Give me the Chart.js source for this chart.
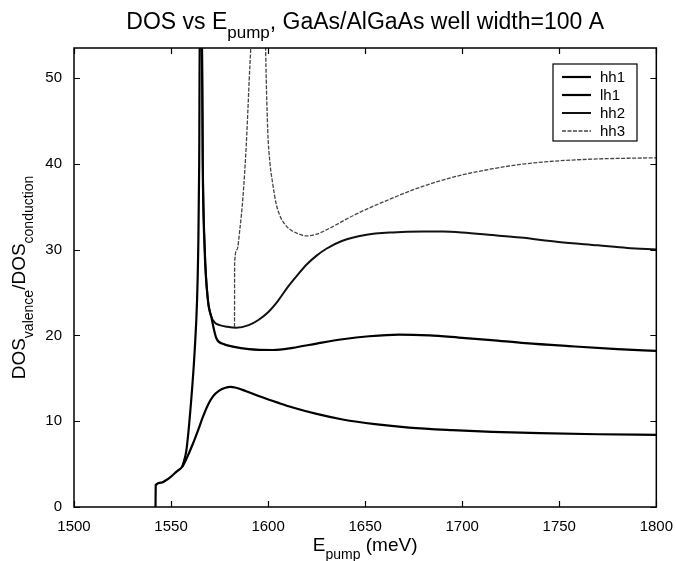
<!DOCTYPE html>
<html>
<head>
<meta charset="utf-8">
<script src="https://cdn.jsdelivr.net/npm/chart.js@4.4.0/dist/chart.umd.min.js"></script>
<style>
  html, body { margin: 0; padding: 0; background: #fff; }
</style>
</head>
<body>
<canvas id="dosChart" width="676" height="561"></canvas>
<script>
// E_pump (meV) / DOS ratio
const hh1E = [1542.0, 1542.1, 1545, 1547.6, 1550, 1552.7, 1555.8, 1558.5, 1561.3, 1564, 1566.4, 1569, 1571.6, 1575, 1578, 1580.5, 1583.5, 1588.7, 1595.5, 1605.8, 1612.7, 1625, 1638.4, 1655, 1672.6, 1695, 1715.4, 1740, 1770, 1800];
const hh1V = [0, 2.56, 2.85, 3.15, 3.55, 4.1, 4.7, 5.9, 7.4, 9.0, 10.5, 11.9, 12.9, 13.6, 13.9, 14.0, 13.9, 13.5, 12.9, 12.1, 11.6, 10.85, 10.2, 9.65, 9.25, 8.95, 8.75, 8.6, 8.48, 8.4];

const lh1E = [1555.8, 1557.9, 1560.4, 1562.2, 1563.4, 1564.0, 1564.5, 1564.9, 1565.7, 1566.3, 1567.3, 1569.0, 1570.7, 1573.3, 1577, 1581.8, 1590, 1602.4, 1612.7, 1625, 1638.4, 1652, 1667.5, 1683, 1698.3, 1715, 1732.5, 1755, 1780, 1800];
const lh1V = [4.7, 6.6, 12.5, 18.3, 24.1, 30, 40, 60, 60, 40, 30, 24.1, 22.2, 19.7, 19.0, 18.7, 18.4, 18.3, 18.55, 19.05, 19.55, 19.9, 20.1, 20.0, 19.75, 19.45, 19.1, 18.75, 18.4, 18.2];

const hh2E = [1565.8, 1566.4, 1567.4, 1569.0, 1570.7, 1572.5, 1575, 1579, 1583.6, 1590, 1595, 1600, 1605, 1610, 1615, 1620, 1625, 1630, 1638, 1650, 1664, 1680, 1690, 1700, 1715.4, 1730, 1749.6, 1770, 1785, 1800];
const hh2V = [60, 40, 30, 24.1, 22.2, 21.5, 21.2, 21.0, 20.9, 21.2, 21.8, 22.7, 24.0, 25.6, 27.0, 28.3, 29.3, 30.1, 31.0, 31.7, 32.0, 32.1, 32.1, 32.0, 31.7, 31.4, 30.9, 30.5, 30.2, 30.0];

const hh3E = [1582.7, 1582.75, 1584, 1585.5, 1587, 1588.7, 1590.3, 1591.4, 1592.5, 1597.8, 1598.6, 1599.8, 1601, 1602.3, 1604, 1606, 1608.5, 1611, 1615, 1619.5, 1625, 1630, 1645, 1664, 1680, 1698, 1715, 1732.5, 1750, 1766.7, 1785, 1800];
const hh3V = [21.0, 28.4, 30, 32.5, 36, 42, 50, 56, 70, 70, 55, 44, 40, 37.8, 35.5, 34.0, 33.0, 32.4, 31.9, 31.6, 31.8, 32.3, 34.1, 36.0, 37.4, 38.6, 39.4, 40.0, 40.35, 40.55, 40.65, 40.7];

const seriesNames = ['hh1', 'lh1', 'hh2', 'hh3'];
const xTicks = [1500, 1550, 1600, 1650, 1700, 1750, 1800];
const yTicks = [0, 10, 20, 30, 40, 50];

const FONT = '"Liberation Sans", Arial, Helvetica, sans-serif';

const pts = (xs, ys) => xs.map((x, i) => ({ x: x, y: ys[i] }));

// text with subscripts: parts = [[text, isSub], ...], drawn centred on cx
function subText(ctx, parts, size, cx, baseY) {
  const subSize = Math.round(size * 0.75);
  const drop = size * 0.4;
  let total = 0;
  parts.forEach(p => {
    ctx.font = (p[1] ? subSize : size) + 'px ' + FONT;
    total += ctx.measureText(p[0]).width;
  });
  let x = cx - total / 2;
  ctx.textAlign = 'left';
  ctx.textBaseline = 'alphabetic';
  parts.forEach(p => {
    ctx.font = (p[1] ? subSize : size) + 'px ' + FONT;
    ctx.fillText(p[0], x, p[1] ? baseY + drop : baseY);
    x += ctx.measureText(p[0]).width;
  });
}

const framePlugin = {
  id: 'frame',
  afterDraw: (chart) => {
    const ctx = chart.ctx;
    const a = chart.chartArea;
    const xs = chart.scales.x, ys = chart.scales.y;
    ctx.save();
    ctx.strokeStyle = '#000';
    ctx.fillStyle = '#000';

    // box + inward ticks
    ctx.lineWidth = 1.5;
    ctx.strokeRect(a.left, a.top, a.right - a.left, a.bottom - a.top);
    ctx.lineWidth = 1.2;
    ctx.beginPath();
    xTicks.forEach(v => {
      const px = Math.round(xs.getPixelForValue(v)) + 0.5;
      ctx.moveTo(px, a.bottom); ctx.lineTo(px, a.bottom - 6);
      ctx.moveTo(px, a.top); ctx.lineTo(px, a.top + 6);
    });
    yTicks.forEach(v => {
      const py = Math.round(ys.getPixelForValue(v)) + 0.5;
      ctx.moveTo(a.left, py); ctx.lineTo(a.left + 6, py);
      ctx.moveTo(a.right, py); ctx.lineTo(a.right - 6, py);
    });
    ctx.stroke();

    // title and axis labels
    const cx = (a.left + a.right) / 2;
    subText(ctx, [['DOS vs E', false], ['pump', true], [', GaAs/AlGaAs well width=100 A', false]], 23, cx, 29);
    subText(ctx, [['E', false], ['pump', true], [' (meV)', false]], 19, cx, 551);
    ctx.save();
    ctx.translate(25, (a.top + a.bottom) / 2);
    ctx.rotate(-Math.PI / 2);
    subText(ctx, [['DOS', false], ['valence', true], ['/DOS', false], ['conduction', true]], 19, 0, 0);
    ctx.restore();

    // legend box
    const lx = 553, ly = 64, lw = 84, lh = 77;
    ctx.fillStyle = '#fff';
    ctx.fillRect(lx, ly, lw, lh);
    ctx.lineWidth = 1.2;
    ctx.strokeStyle = '#000';
    ctx.strokeRect(lx, ly, lw, lh);
    ctx.font = '15px ' + FONT;
    ctx.textAlign = 'left';
    ctx.textBaseline = 'middle';
    chart.data.datasets.forEach((ds, i) => {
      const ry = ly + 13 + i * 18;
      ctx.strokeStyle = ds.borderColor;
      ctx.lineWidth = ds.borderWidth;
      ctx.setLineDash(ds.borderDash || []);
      ctx.beginPath();
      ctx.moveTo(lx + 9, ry); ctx.lineTo(lx + 38, ry);
      ctx.stroke();
      ctx.setLineDash([]);
      ctx.fillStyle = '#000';
      ctx.fillText(ds.label, lx + 47, ry + 1);
    });
    ctx.restore();
  }
};

const lineSet = (label, data, color, width, dash) => ({
  label: label,
  data: data,
  showLine: true,
  borderColor: color,
  borderWidth: width,
  borderDash: dash,
  pointRadius: 0,
  cubicInterpolationMode: 'monotone',
  fill: false
});

new Chart(document.getElementById('dosChart').getContext('2d'), {
  type: 'scatter',
  data: {
    datasets: [
      lineSet(seriesNames[0], pts(hh1E, hh1V), '#000', 2.2, []),
      lineSet(seriesNames[1], pts(lh1E, lh1V), '#000', 2.2, []),
      lineSet(seriesNames[2], pts(hh2E, hh2V), '#111', 2.0, []),
      lineSet(seriesNames[3], pts(hh3E, hh3V), '#444', 1.3, [4, 1.5])
    ]
  },
  options: {
    responsive: false,
    animation: false,
    devicePixelRatio: 1,
    layout: { padding: { top: 48, right: 18, left: 0, bottom: 0 } },
    plugins: {
      legend: { display: false },
      title: { display: false },
      tooltip: { enabled: false }
    },
    scales: {
      x: {
        type: 'linear',
        min: 1500,
        max: 1800,
        afterBuildTicks: (s) => { s.ticks = xTicks.map(v => ({ value: v })); },
        afterFit: (s) => { s.height = 54; },
        grid: { display: false },
        border: { display: false },
        ticks: { color: '#000', padding: 3, maxRotation: 0, callback: (v) => String(v), font: { family: FONT, size: 15 } }
      },
      y: {
        min: 0,
        max: 53.5,
        afterBuildTicks: (s) => { s.ticks = yTicks.map(v => ({ value: v })); },
        afterFit: (s) => { s.width = 74; },
        grid: { display: false },
        border: { display: false },
        ticks: { color: '#000', padding: 4, callback: (v) => String(v), font: { family: FONT, size: 15 } }
      }
    }
  },
  plugins: [framePlugin]
});
</script>
</body>
</html>
